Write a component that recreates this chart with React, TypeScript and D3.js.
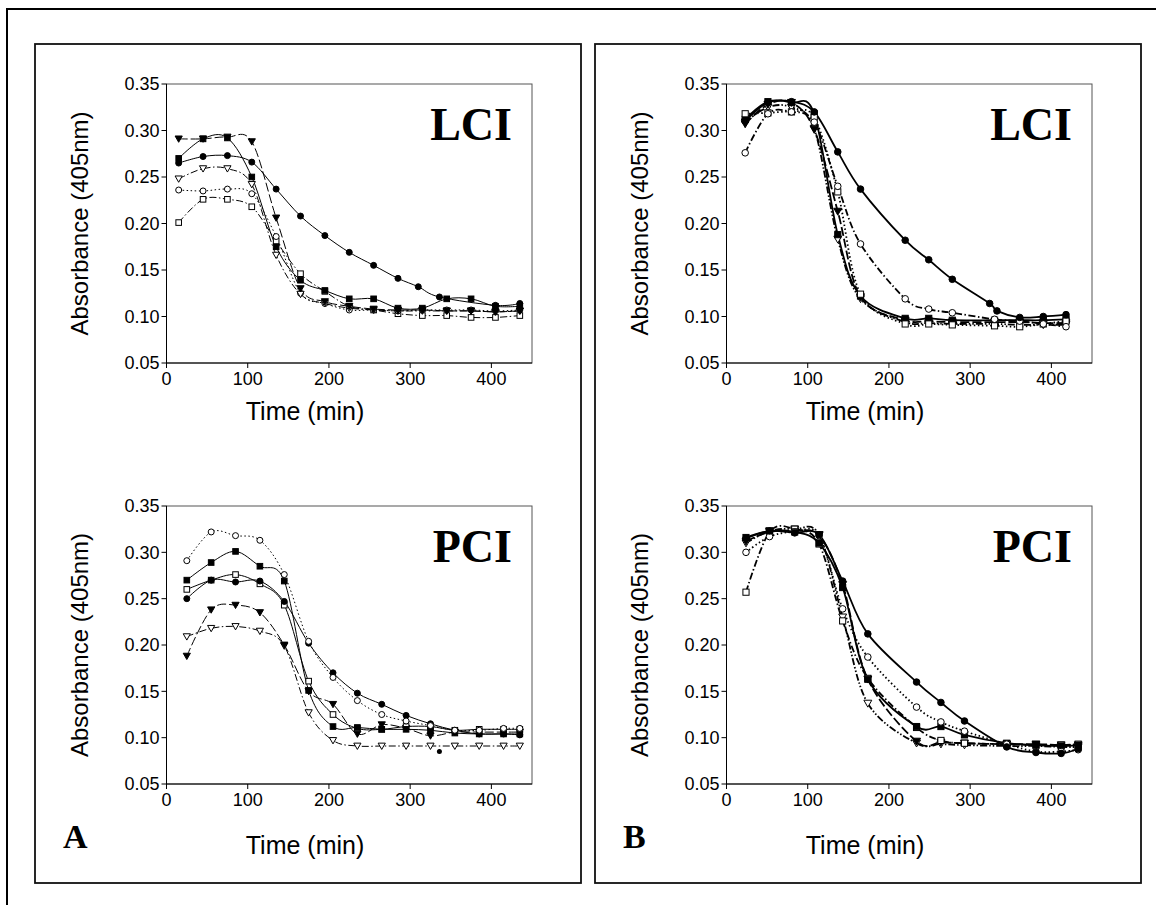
import React from "react";
import * as d3 from "d3";

// ---------- DATA ----------
const xTicks = [0, 100, 200, 300, 400];
const yTicks = [0.05, 0.1, 0.15, 0.2, 0.25, 0.3, 0.35];

// Panel A, LCI
const tA_LCI = [15, 45, 75, 105, 135, 165, 195, 225, 255, 285, 315, 345, 375, 405, 435];
const tA_LCI_fc = [15, 45, 75, 105, 135, 165, 195, 225, 255, 285, 310, 336, 405, 435];
const A_LCI_filledCircle = [0.265, 0.272, 0.273, 0.266, 0.237, 0.208, 0.187, 0.169, 0.155, 0.141, 0.132, 0.121, 0.112, 0.114];
const A_LCI_filledSquare = [0.27, 0.291, 0.292, 0.25, 0.175, 0.139, 0.128, 0.119, 0.119, 0.109, 0.109, 0.119, 0.119, 0.111, 0.111];
const A_LCI_filledTri = [0.291, 0.291, 0.293, 0.288, 0.206, 0.13, 0.116, 0.111, 0.108, 0.107, 0.107, 0.106, 0.106, 0.105, 0.106];
const A_LCI_openTri = [0.248, 0.259, 0.259, 0.242, 0.166, 0.124, 0.114, 0.109, 0.107, 0.106, 0.106, 0.106, 0.106, 0.105, 0.106];
const A_LCI_openCircle = [0.236, 0.235, 0.237, 0.232, 0.186, 0.125, 0.114, 0.107, 0.107, 0.106, 0.107, 0.107, 0.107, 0.106, 0.107];
const A_LCI_openSquare = [0.201, 0.226, 0.226, 0.218, 0.181, 0.146, 0.127, 0.111, 0.107, 0.103, 0.101, 0.101, 0.099, 0.099, 0.101];

// Panel A, PCI
const tA_PCI = [25, 55, 85, 115, 145, 175, 205, 235, 265, 295, 325, 355, 385, 415, 435];
const A_PCI_openCircle = [0.291, 0.322, 0.318, 0.313, 0.276, 0.204, 0.165, 0.14, 0.125, 0.118, 0.113, 0.108, 0.108, 0.11, 0.11];
const A_PCI_filledSquare = [0.27, 0.289, 0.301, 0.285, 0.269, 0.151, 0.112, 0.111, 0.109, 0.109, 0.108, 0.105, 0.104, 0.104, 0.104];
const A_PCI_openSquare = [0.26, 0.27, 0.276, 0.266, 0.243, 0.161, 0.125, 0.11, 0.109, 0.112, 0.112, 0.108, 0.109, 0.109, 0.109];
const A_PCI_filledCircle = [0.25, 0.27, 0.268, 0.269, 0.247, 0.202, 0.17, 0.148, 0.136, 0.124, 0.115, 0.108, 0.104, 0.104, 0.103];
const A_PCI_filledTri = [0.188, 0.238, 0.243, 0.235, 0.2, 0.15, 0.136, 0.104, 0.114, 0.11, 0.102, 0.106, 0.106, 0.106, 0.106];
const A_PCI_openTri = [0.209, 0.218, 0.22, 0.215, 0.199, 0.127, 0.097, 0.091, 0.091, 0.091, 0.091, 0.091, 0.091, 0.091, 0.091];
const A_PCI_stray = [336, 0.085];

// Panel B, LCI
const tB_LCI = [23, 51, 80, 108, 137, 165, 220, 249, 278, 330, 361, 390, 418];
const tB_LCI_fc = [23, 51, 80, 108, 137, 165, 220, 249, 278, 324, 333, 361, 390, 418];
const B_LCI_filledCircle = [0.31, 0.33, 0.331, 0.32, 0.277, 0.237, 0.182, 0.161, 0.14, 0.114, 0.106, 0.099, 0.1, 0.102];
const B_LCI_openCircle = [0.276, 0.318, 0.32, 0.309, 0.24, 0.178, 0.119, 0.108, 0.104, 0.097, 0.095, 0.092, 0.089];
const B_LCI_openSquare = [0.318, 0.319, 0.32, 0.314, 0.234, 0.124, 0.092, 0.092, 0.091, 0.09, 0.089, 0.092, 0.095];
const B_LCI_filledSquare = [0.312, 0.331, 0.33, 0.318, 0.188, 0.122, 0.098, 0.098, 0.096, 0.096, 0.096, 0.096, 0.097];
const B_LCI_filledTri = [0.307, 0.328, 0.33, 0.301, 0.213, 0.121, 0.096, 0.095, 0.094, 0.094, 0.094, 0.093, 0.093];
const B_LCI_openTri = [0.309, 0.325, 0.325, 0.302, 0.183, 0.119, 0.094, 0.093, 0.092, 0.092, 0.091, 0.091, 0.091];

// Panel B, PCI
const tB_PCI = [24, 53, 84, 114, 143, 174, 234, 264, 293, 345, 381, 412, 433];
const B_PCI_filledCircle = [0.315, 0.323, 0.321, 0.319, 0.269, 0.212, 0.16, 0.138, 0.118, 0.09, 0.084, 0.083, 0.088];
const B_PCI_filledSquare = [0.316, 0.323, 0.322, 0.31, 0.262, 0.163, 0.112, 0.112, 0.103, 0.094, 0.092, 0.091, 0.092];
const B_PCI_openSquare = [0.257, 0.322, 0.325, 0.309, 0.226, 0.164, 0.111, 0.097, 0.094, 0.093, 0.092, 0.092, 0.093];
const B_PCI_openCircle = [0.3, 0.317, 0.322, 0.318, 0.239, 0.187, 0.133, 0.117, 0.107, 0.093, 0.085, 0.085, 0.087];
const B_PCI_filledTri = [0.312, 0.322, 0.323, 0.318, 0.265, 0.163, 0.096, 0.095, 0.094, 0.093, 0.093, 0.092, 0.092];
const B_PCI_openTri = [0.31, 0.323, 0.325, 0.319, 0.23, 0.137, 0.094, 0.093, 0.092, 0.091, 0.091, 0.09, 0.09];

// ---------- STYLES ----------
type Marker = "fc" | "oc" | "fs" | "os" | "ft" | "ot";
const DASH: Record<string, string> = {
  solid: "",
  long: "9,3",
  dot: "1.5,2.5",
  dashdot: "7,2.5,1.5,2.5",
  dashdotdot: "7,2,1.5,2,1.5,2",
};

interface Series { t: number[]; v: number[]; m: Marker; dash: string }

const panelA_LCI: Series[] = [
  { t: tA_LCI, v: A_LCI_openSquare, m: "os", dash: "dashdot" },
  { t: tA_LCI, v: A_LCI_openCircle, m: "oc", dash: "dot" },
  { t: tA_LCI, v: A_LCI_openTri, m: "ot", dash: "dashdot" },
  { t: tA_LCI, v: A_LCI_filledTri, m: "ft", dash: "long" },
  { t: tA_LCI, v: A_LCI_filledSquare, m: "fs", dash: "solid" },
  { t: tA_LCI_fc, v: A_LCI_filledCircle, m: "fc", dash: "solid" },
];
const panelA_PCI: Series[] = [
  { t: tA_PCI, v: A_PCI_openTri, m: "ot", dash: "dashdot" },
  { t: tA_PCI, v: A_PCI_filledTri, m: "ft", dash: "long" },
  { t: tA_PCI, v: A_PCI_openSquare, m: "os", dash: "solid" },
  { t: tA_PCI, v: A_PCI_filledCircle, m: "fc", dash: "solid" },
  { t: tA_PCI, v: A_PCI_filledSquare, m: "fs", dash: "solid" },
  { t: tA_PCI, v: A_PCI_openCircle, m: "oc", dash: "dot" },
];
const panelB_LCI: Series[] = [
  { t: tB_LCI, v: B_LCI_openTri, m: "ot", dash: "dashdotdot" },
  { t: tB_LCI, v: B_LCI_filledTri, m: "ft", dash: "long" },
  { t: tB_LCI, v: B_LCI_filledSquare, m: "fs", dash: "solid" },
  { t: tB_LCI, v: B_LCI_openSquare, m: "os", dash: "dot" },
  { t: tB_LCI, v: B_LCI_openCircle, m: "oc", dash: "dashdot" },
  { t: tB_LCI_fc, v: B_LCI_filledCircle, m: "fc", dash: "solid" },
];
const panelB_PCI: Series[] = [
  { t: tB_PCI, v: B_PCI_openTri, m: "ot", dash: "dashdotdot" },
  { t: tB_PCI, v: B_PCI_filledTri, m: "ft", dash: "long" },
  { t: tB_PCI, v: B_PCI_openSquare, m: "os", dash: "dashdot" },
  { t: tB_PCI, v: B_PCI_filledSquare, m: "fs", dash: "solid" },
  { t: tB_PCI, v: B_PCI_openCircle, m: "oc", dash: "dot" },
  { t: tB_PCI, v: B_PCI_filledCircle, m: "fc", dash: "solid" },
];

const SANS = "'Liberation Sans', Arial, sans-serif";
const SERIF = "'Liberation Serif', 'Times New Roman', serif";

function MarkerShape({ m, x, y, s }: { m: Marker; x: number; y: number; s: number }) {
  const filled = m === "fc" || m === "fs" || m === "ft";
  const fill = filled ? "#000" : "#fff";
  const common = { fill, stroke: "#000", strokeWidth: 1 };
  if (m === "fc" || m === "oc") return <circle cx={x} cy={y} r={3 * s} {...common} />;
  if (m === "fs" || m === "os") {
    const h = 2.8 * s;
    return <rect x={x - h} y={y - h} width={2 * h} height={2 * h} {...common} />;
  }
  const w = 3.6 * s;
  const pts = `${x - w},${y - w * 0.8} ${x + w},${y - w * 0.8} ${x},${y + w * 0.95}`;
  return <polygon points={pts} {...common} />;
}

function Plot({ left, top, bottom, series, label, lw, ms, titleY, stray }: {
  left: number; top: number; bottom: number; series: Series[]; label: string;
  lw: number; ms: number; titleY: number; stray?: number[];
}) {
  const x0 = left + 131.5;
  const x1 = left + 497;
  const x = d3.scaleLinear().domain([0, 450]).range([x0, x1]);
  const y = d3.scaleLinear().domain([0.05, 0.35]).range([bottom, top]);
  const line = d3.line<[number, number]>()
    .x((d) => x(d[0]))
    .y((d) => y(d[1]))
    .curve(d3.curveCatmullRom.alpha(0));
  return (
    <g>
      <rect x={x0} y={top} width={x1 - x0} height={bottom - top} fill="none" stroke="#555" strokeWidth={1} />
      <line x1={x0} x2={x0} y1={top} y2={bottom} stroke="#000" />
      <line x1={x0} x2={x1} y1={bottom} y2={bottom} stroke="#000" />
      {yTicks.map((t) => (
        <g key={"y" + t}>
          <line x1={x0 - 5} x2={x0} y1={y(t)} y2={y(t)} stroke="#000" />
          <text x={x0 - 7} y={y(t)} dy="0.36em" textAnchor="end" fontFamily={SANS} fontSize={18}>
            {d3.format(".2f")(t)}
          </text>
        </g>
      ))}
      {xTicks.map((t) => (
        <g key={"x" + t}>
          <line x1={x(t)} x2={x(t)} y1={bottom} y2={bottom + 5} stroke="#000" />
          <text x={x(t)} y={bottom + 22} textAnchor="middle" fontFamily={SANS} fontSize={18}>
            {t}
          </text>
        </g>
      ))}
      <text
        transform={`translate(${left + 45},${(top + bottom) / 2}) rotate(-90)`}
        textAnchor="middle" dy="0.35em" fontFamily={SANS} fontSize={24}
      >
        Absorbance (405nm)
      </text>
      <text x={left + 270} y={titleY} textAnchor="middle" fontFamily={SANS} fontSize={25}>
        Time (min)
      </text>
      <text x={left + 477} y={top + 56} textAnchor="end" fontFamily={SERIF} fontWeight="bold" fontSize={46}>
        {label}
      </text>
      {series.map((s, i) => {
        const pts: [number, number][] = s.t.map((t, j) => [t, s.v[j]]);
        return (
          <path key={"l" + i} d={line(pts) || ""} fill="none" stroke="#000" strokeWidth={lw}
            strokeDasharray={DASH[s.dash]} />
        );
      })}
      {series.map((s, i) => (
        <g key={"m" + i}>
          {s.t.map((t, j) => (
            <MarkerShape key={j} m={s.m} x={x(t)} y={y(s.v[j])} s={ms} />
          ))}
        </g>
      ))}
      {stray && <circle cx={x(stray[0])} cy={y(stray[1])} r={2.5} fill="#000" />}
    </g>
  );
}

export default function App() {
  const panels = [
    { left: 35, letter: "A", lci: panelA_LCI, pci: panelA_PCI, lw: 1, ms: 1, stray: A_PCI_stray },
    { left: 595, letter: "B", lci: panelB_LCI, pci: panelB_PCI, lw: 1.8, ms: 1.1, stray: undefined },
  ];
  return (
    <svg width={1156} height={905} style={{ position: "absolute", left: 0, top: 0, background: "#fff" }}>
      <rect x={0} y={0} width={1156} height={905} fill="#fff" />
      <path d="M7,905 V9 H1156" fill="none" stroke="#000" strokeWidth={2} />
      {panels.map((p) => (
        <g key={p.letter}>
          <rect x={p.left} y={44} width={546} height={839} fill="none" stroke="#111" strokeWidth={1.8} />
          <Plot left={p.left} top={84} bottom={363} series={p.lci} label="LCI" lw={p.lw} ms={p.ms} titleY={420} />
          <Plot left={p.left} top={506} bottom={784} series={p.pci} label="PCI" lw={p.lw} ms={p.ms} titleY={854} stray={p.stray} />
          <text x={p.left + 28} y={848} fontFamily={SERIF} fontWeight="bold" fontSize={34}>{p.letter}</text>
        </g>
      ))}
    </svg>
  );
}
